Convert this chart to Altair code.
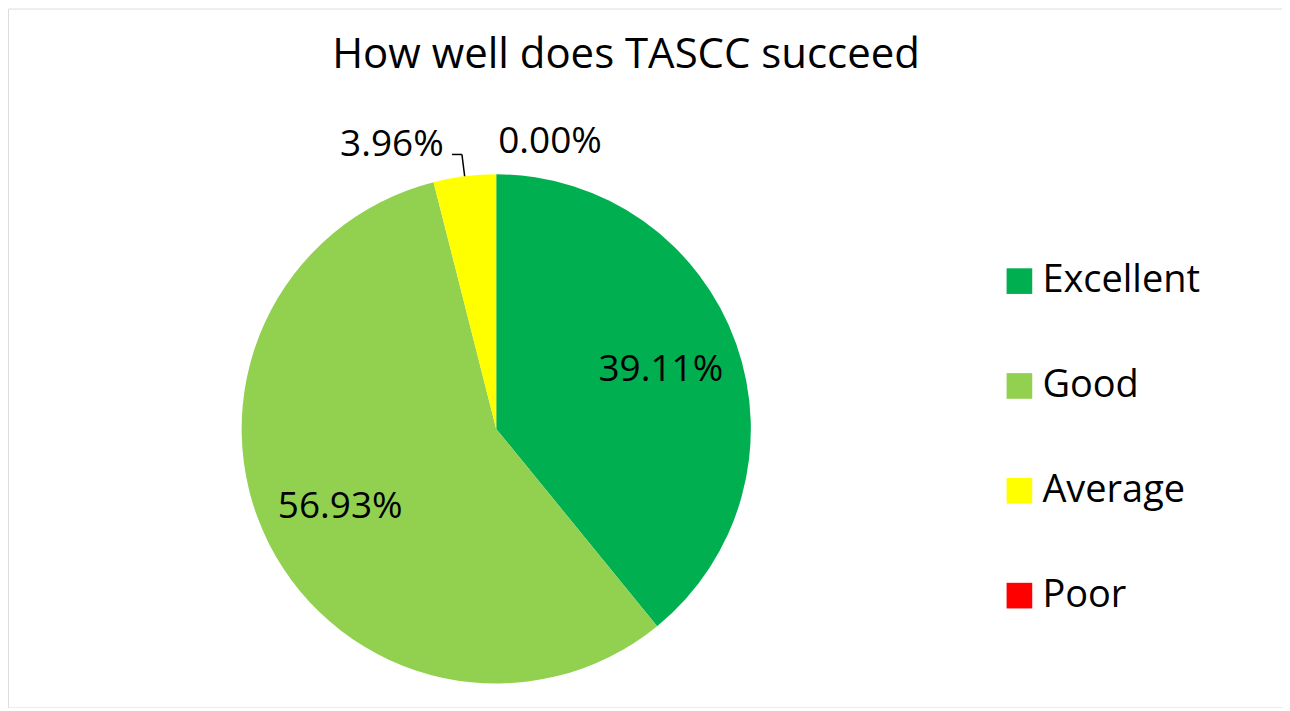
import altair as alt
import pandas as pd

categories = ["Excellent", "Good", "Average", "Poor"]
percents = [39.11, 56.93, 3.96, 0.00]
colors = ["#00b050", "#92d050", "#ffff00", "#ff0000"]
title_text = "How well does TASCC succeed"

df = pd.DataFrame({"category": categories, "pct": percents, "order": list(range(len(categories)))})

W, H = 1276, 700
CX, CY, R = 489, 421, 255
FONT = "Open Sans"

base = alt.Chart(df).transform_window(
    cum="sum(pct)", sort=[alt.SortField("order")], frame=[None, 0]
).transform_calculate(
    start="datum.cum - datum.pct",
    mid="datum.cum - datum.pct / 2",
    label="format(datum.pct, '.2f') + '%'",
)

theta_scale = alt.Scale(domain=[0, 100], range=[0, 6.283185307179586])
color_enc = alt.Color(
    "category:N",
    scale=alt.Scale(domain=categories, range=colors),
    sort=categories,
    legend=alt.Legend(
        title=None,
        orient="none",
        legendX=994,
        legendY=254,
        symbolType="square",
        symbolSize=660,
        symbolStrokeWidth=0,
        labelFont=FONT,
        labelFontSize=38,
        labelColor="#000000",
        labelOffset=4,
        rowPadding=67,
        padding=0,
    ),
)

pie = base.mark_arc(outerRadius=R, stroke="white", strokeWidth=0).encode(
    theta=alt.Theta("start:Q", scale=theta_scale),
    theta2="cum:Q",
    color=color_enc,
    x=alt.value(CX),
    y=alt.value(CY),
)

inside = base.transform_filter("datum.pct >= 10").mark_text(
    radius=175, font=FONT, fontSize=37, color="#000000", baseline="middle"
).encode(
    theta=alt.Theta("mid:Q", scale=theta_scale),
    text="label:N",
    x=alt.value(CX),
    y=alt.value(CY),
)

out_left = base.transform_filter("datum.category == 'Average'").mark_text(
    radius=287, font=FONT, fontSize=37, color="#000000", baseline="middle", align="right", dx=-17
).encode(
    theta=alt.Theta("mid:Q", scale=theta_scale),
    text="label:N",
    x=alt.value(CX),
    y=alt.value(CY),
)

out_right = base.transform_filter("datum.category == 'Poor'").mark_text(
    radius=287, font=FONT, fontSize=37, color="#000000", baseline="middle", align="left", dx=2
).encode(
    theta=alt.Theta("mid:Q", scale=theta_scale),
    text="label:N",
    x=alt.value(CX),
    y=alt.value(CY),
)

leader_base = base.transform_filter("datum.category == 'Average'").transform_calculate(
    ang="2 * PI * datum.mid / 100",
).transform_calculate(
    x0=f"{CX} + {R} * sin(datum.ang)",
    y0=f"{CY} - {R} * cos(datum.ang)",
    x1=f"{CX} + {R + 22} * sin(datum.ang)",
    y1=f"{CY} - {R + 22} * cos(datum.ang)",
).transform_calculate(
    x2="datum.x1 - 10",
)

leader1 = leader_base.mark_rule(color="#000000", strokeWidth=1.5).encode(
    x=alt.X("x0:Q", scale=None), y=alt.Y("y0:Q", scale=None),
    x2="x1:Q", y2="y1:Q",
)
leader2 = leader_base.mark_rule(color="#000000", strokeWidth=1.5).encode(
    x=alt.X("x1:Q", scale=None), y=alt.Y("y1:Q", scale=None),
    x2="x2:Q", y2="y1:Q",
)

chart = alt.layer(pie, leader1, leader2, inside, out_left, out_right).properties(
    width=W,
    height=H,
    padding=0,
    autosize=alt.AutoSizeParams(type="none"),
    title=alt.TitleParams(
        title_text, font=FONT, fontSize=42, fontWeight="normal", color="#000000",
        anchor="middle", dx=-19, dy=106, baseline="alphabetic",
    ),
).configure_view(
    stroke="#7f7f7f", strokeWidth=2
).configure(background="white")

chart.save("out.html", embed_options={"renderer": "svg", "actions": False})
